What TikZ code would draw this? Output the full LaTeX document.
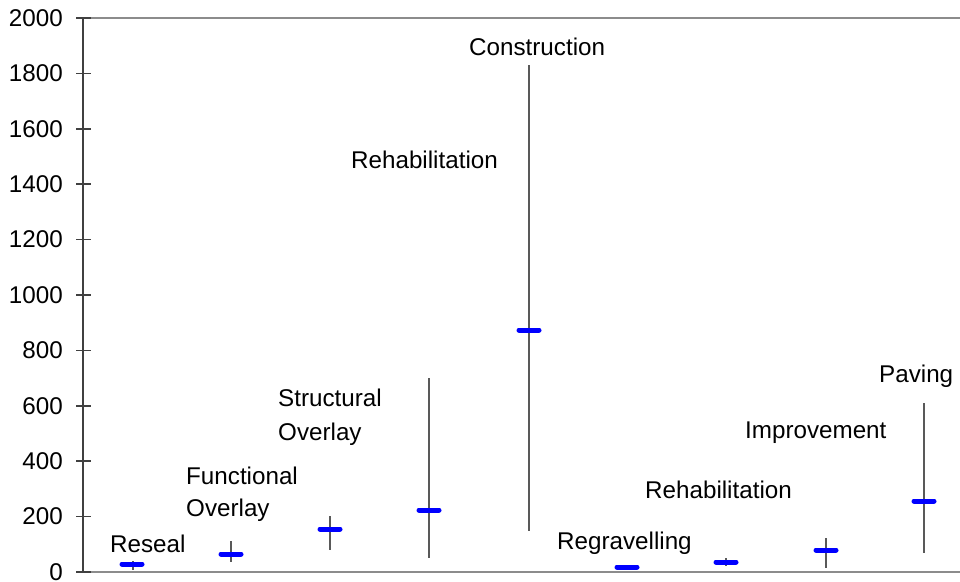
\documentclass[tikz,border=0pt]{standalone}
\usepackage{fontspec}
\setmainfont{Liberation Sans}
\begin{document}
\begin{tikzpicture}[x=1pt,y=-1pt,
  lbl/.style={anchor=base west,inner sep=0pt,font=\fontsize{24.2}{28}\selectfont},
  ticklbl/.style={anchor=east,inner sep=0pt,font=\fontsize{24.2}{28}\selectfont},
  axisline/.style={line width=1.5pt,draw=black!75},
  frameline/.style={line width=1.6pt,draw=black!45},
  whisker/.style={line width=1.4pt,draw=black!65},
  meanbar/.style={line width=5pt,draw=blue,line cap=round}]
\useasboundingbox (0,0) rectangle (960,581);
% frame lines
\draw[frameline] (76,18) -- (960,18);
\draw[frameline] (76,572) -- (960,572);
\draw[axisline] (83,18) -- (83,572);
% ticks and labels
\foreach \v in {0,200,...,2000}{
  \pgfmathsetmacro{\yy}{572-\v*0.277}
  \draw[axisline] (76,\yy) -- (91,\yy);
  \node[ticklbl] at (63,\yy) {\v};
}
% whiskers
\draw[whisker] (133,561) -- (133,570);
\draw[whisker] (231,541) -- (231,562);
\draw[whisker] (330,516) -- (330,550);
\draw[whisker] (429,378) -- (429,558);
\draw[whisker] (529,65) -- (529,531);
\draw[whisker] (726,558) -- (726,566);
\draw[whisker] (826,538) -- (826,568);
\draw[whisker] (924,403) -- (924,553);
% mean bars
\foreach \x/\y in {132/564,231/554,330/529,429/510,529/330,627/567,726/562,826/550,924/501}{
  \draw[meanbar] (\x-10,\y) -- (\x+10,\y);
}
% labels
\node[lbl] at (110,552) {Reseal};
\node[lbl] at (186,484.5) {Functional};
\node[lbl] at (186,516.5) {Overlay};
\node[lbl] at (278,406.5) {Structural};
\node[lbl] at (278,440) {Overlay};
\node[lbl] at (351,168) {Rehabilitation};
\node[lbl] at (469,55.5) {Construction};
\node[lbl] at (557,549.5) {Regravelling};
\node[lbl] at (645,498.5) {Rehabilitation};
\node[lbl] at (745,438.5) {Improvement};
\node[lbl] at (879,382.5) {Paving};
\end{tikzpicture}
\end{document}
